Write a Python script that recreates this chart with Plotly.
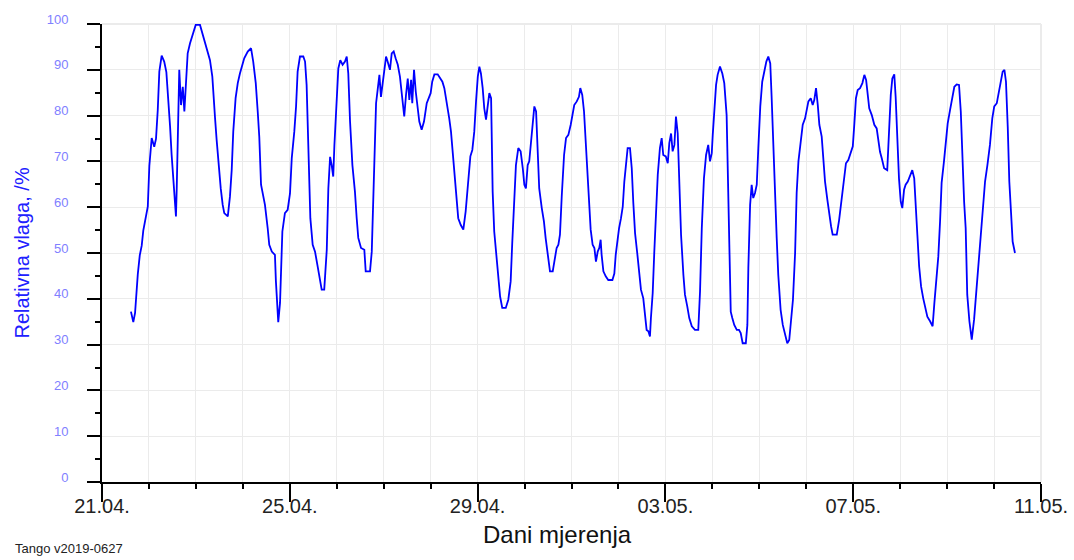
import pandas as pd
import plotly.graph_objects as go

# hours since 21.04. 00:00
hours = [14.8, 16.0, 16.9, 17.4, 18.3, 19.3, 20.3, 21.1, 22.3, 23.4, 24.2, 25.4, 26.7, 27.6, 28.5, 29.3, 30.5, 31.8, 32.9, 33.9,
         34.8, 35.6, 36.7, 37.8, 38.2, 38.7, 39.5, 40.4, 41.3, 42.1, 42.9, 43.8, 45.0, 46.4, 47.9, 50.1, 51.3, 52.7, 53.8, 55.2,
         56.4, 56.9, 57.8, 58.6, 59.5, 60.7, 61.7, 62.5, 64.3, 65.4, 66.3, 67.1, 68.3, 69.4, 70.5, 71.4, 72.7, 74.5, 76.2, 77.3,
         78.6, 79.6, 80.4, 81.3, 82.5, 83.3, 84.7, 85.5, 86.8, 88.4, 88.9, 89.8, 90.1, 91.0, 91.5, 92.2, 93.5, 94.9, 96.1, 97.0,
         98.3, 99.2, 100.0, 101.2, 102.9, 103.8, 104.6, 105.5, 106.5, 107.7, 108.9, 110.1, 111.1, 112.3, 113.6, 114.9, 115.7, 116.6, 117.4, 118.2,
         118.8, 119.6, 120.8, 121.8, 123.0, 124.2, 125.1, 125.9, 126.8, 128.0, 129.3, 130.2, 131.0, 132.4, 134.1, 134.8, 137.0, 137.9, 138.4, 139.0,
         140.1, 140.9, 141.8, 142.6, 143.5, 144.3, 145.2, 146.0, 147.2, 148.1, 149.1, 150.1, 151.2, 152.3, 153.2, 154.0, 154.5, 155.4, 156.3, 157.1,
         158.0, 158.6, 159.5, 160.4, 161.4, 162.2, 163.4, 164.6, 166.0, 167.2, 168.0, 168.8, 169.9, 171.6, 172.8, 174.0, 175.0, 175.9, 176.7, 177.5,
         178.4, 179.3, 180.5, 181.3, 182.1, 183.4, 184.7, 185.9, 187.3, 188.3, 189.3, 190.3, 191.2, 192.1, 192.9, 193.7, 194.6, 195.4, 196.3, 197.2,
         198.0, 198.9, 199.7, 200.5, 201.4, 202.3, 203.5, 204.6, 206.4, 207.7, 208.9, 209.7, 210.8, 211.6, 212.8, 214.0, 215.1, 215.9, 216.7, 217.6,
         218.4, 219.3, 220.2, 221.0, 221.9, 222.7, 223.5, 224.8, 225.9, 226.8, 227.8, 229.0, 230.4, 231.2, 232.4, 233.3, 234.1, 235.0, 236.2, 237.2,
         238.4, 239.6, 240.6, 241.4, 242.7, 243.8, 244.5, 245.5, 246.4, 247.3, 248.1, 249.0, 249.8, 250.8, 251.7, 252.5, 253.4, 254.2, 254.9, 255.4,
         256.3, 257.5, 258.8, 260.9, 261.9, 262.6, 263.4, 264.3, 265.3, 266.2, 267.0, 267.9, 268.7, 269.9, 270.8, 271.6, 272.5, 273.6, 274.7, 275.5,
         276.7, 277.6, 278.4, 279.3, 280.1, 280.6, 281.5, 282.3, 283.2, 284.1, 285.2, 286.1, 286.9, 288.2, 289.2, 290.0, 290.9, 291.7, 292.6, 293.4,
         294.3, 295.1, 296.0, 297.2, 298.0, 299.2, 300.2, 301.5, 303.1, 304.8, 305.7, 306.6, 307.7, 308.8, 309.9, 310.8, 311.7, 312.2, 313.0, 313.9,
         314.7, 315.9, 317.1, 318.1, 319.3, 319.8, 320.5, 321.4, 322.2, 323.2, 324.5, 325.6, 326.5, 327.5, 329.1, 329.9, 330.4, 331.3, 332.1, 332.9,
         333.8, 334.7, 335.5, 336.5, 337.5, 338.6, 339.6, 340.6, 341.6, 342.3, 343.2, 344.0, 344.9, 345.7, 346.9, 348.0, 349.1, 350.3, 351.3, 352.2,
         353.2, 354.3, 355.1, 356.0, 357.2, 358.2, 359.4, 360.2, 361.1, 362.3, 363.3, 364.1, 365.0, 365.9, 366.7, 367.9, 368.7, 369.6, 370.8, 371.8,
         372.7, 373.5, 375.6, 376.8, 377.6, 378.4, 379.3, 380.3, 381.5, 382.7, 383.8, 384.6, 385.4, 386.3, 387.5, 388.7, 389.7, 390.6, 391.4, 392.2,
         393.5, 394.8, 396.0, 396.8, 397.7, 398.6, 399.8, 401.4, 402.3, 403.2, 404.0, 405.0, 405.7, 406.6, 407.4, 408.3, 409.1, 410.0, 410.8, 411.9,
         413.0, 414.2, 415.2, 416.0, 416.8, 417.7, 418.7, 419.8, 420.7, 421.9, 423.3, 424.6, 425.5, 426.3, 427.5, 428.4, 429.2, 430.4, 431.3, 432.3,
         433.5, 434.7, 435.7, 436.9, 438.1, 439.0, 439.8, 440.7, 441.5, 442.3, 443.4, 444.6, 445.8, 446.8, 448.0, 449.2, 450.2, 451.4, 452.6, 453.9,
         455.1, 456.1, 457.4, 458.5, 459.4, 460.4, 461.3, 462.1, 463.0, 463.8, 464.7, 465.5, 466.7]

rh = [37.2, 34.9, 36.9, 40.6, 45.4, 49.5, 51.6, 54.9, 58.0, 60.1, 69.0, 75.1, 73.2, 74.9, 81.2, 89.6, 93.1, 91.8, 89.5, 83.8,
      77.6, 71.4, 64.9, 58.0, 64.1, 78.0, 90.0, 82.3, 86.3, 80.9, 88.1, 93.6, 95.8, 97.6, 99.8, 99.8, 98.0, 95.8, 94.0, 92.1,
      88.5, 84.5, 79.4, 74.7, 69.6, 64.1, 60.5, 58.7, 58.0, 62.3, 68.1, 76.5, 83.8, 87.1, 89.2, 90.7, 92.5, 94.0, 94.7, 91.8,
      87.1, 80.9, 75.4, 64.9, 62.3, 60.5, 55.4, 51.8, 50.3, 49.6, 43.8, 37.2, 34.9, 39.1, 47.4, 54.7, 58.7, 59.4, 63.0, 70.7,
      76.5, 82.0, 89.6, 92.9, 92.9, 91.8, 86.7, 72.1, 57.6, 51.8, 50.3, 47.4, 44.5, 42.0, 42.0, 50.7, 64.1, 71.0, 69.2, 66.7,
      73.6, 81.6, 90.3, 92.1, 91.1, 91.8, 92.9, 89.2, 78.7, 69.2, 63.4, 57.6, 53.3, 51.1, 50.7, 46.0, 46.0, 50.3, 57.6, 71.8,
      82.7, 85.6, 88.9, 84.1, 87.1, 89.6, 92.9, 91.8, 90.0, 93.6, 94.0, 92.5, 91.1, 88.5, 85.2, 82.3, 79.8, 84.5, 88.1, 83.4,
      87.8, 82.7, 90.0, 85.2, 80.9, 78.7, 76.9, 78.7, 82.7, 83.8, 84.9, 87.4, 89.0, 89.0, 88.1, 87.4, 86.0, 83.8, 81.6, 79.4,
      76.5, 71.8, 65.6, 60.9, 57.6, 56.1, 55.1, 59.1, 66.0, 71.1, 72.5, 76.5, 83.1, 88.5, 90.7, 89.2, 86.0, 81.6, 79.1, 81.6,
      84.9, 83.8, 63.4, 54.7, 50.3, 44.9, 40.5, 38.0, 38.0, 39.8, 43.8, 52.1, 61.2, 69.2, 72.9, 72.2, 68.5, 64.9, 64.1, 69.2,
      70.0, 74.3, 79.4, 82.0, 80.9, 73.6, 64.1, 59.8, 56.9, 53.2, 50.0, 46.0, 46.0, 48.5, 51.1, 51.8, 54.0, 62.3, 71.4, 75.1,
      75.8, 78.0, 80.5, 82.3, 83.1, 84.1, 86.0, 84.5, 80.9, 74.0, 66.3, 60.1, 55.1, 51.8, 51.1, 48.1, 50.3, 51.1, 52.9, 49.6,
      46.0, 44.9, 44.1, 44.1, 45.5, 49.6, 52.9, 55.4, 57.6, 60.1, 65.6, 70.3, 72.9, 72.9, 68.5, 60.9, 54.3, 50.0, 46.0, 42.0,
      40.1, 36.9, 33.2, 32.9, 31.8, 35.8, 41.2, 50.0, 59.4, 67.1, 72.9, 75.1, 71.4, 71.1, 69.6, 74.0, 76.1, 72.2, 73.6, 79.8,
      76.1, 66.3, 54.0, 45.2, 40.9, 38.3, 35.8, 34.0, 33.2, 33.2, 41.6, 55.4, 66.3, 71.4, 73.6, 70.0, 71.8, 75.8, 82.0, 86.7,
      88.9, 90.7, 89.2, 87.1, 80.1, 68.5, 55.4, 37.2, 35.8, 34.3, 33.2, 33.2, 32.5, 30.3, 30.3, 34.3, 46.7, 60.5, 64.9, 62.0,
      63.1, 64.9, 72.9, 82.0, 87.4, 90.0, 91.8, 92.9, 91.4, 84.1, 72.5, 61.6, 53.2, 45.2, 37.6, 34.3, 32.1, 30.3, 31.0, 35.1,
      39.8, 50.0, 63.1, 70.0, 75.1, 78.0, 79.4, 81.6, 83.1, 83.8, 82.3, 83.4, 86.0, 82.3, 78.0, 75.4, 70.0, 65.6, 61.6, 58.0,
      55.8, 54.0, 54.0, 57.2, 60.1, 63.1, 67.1, 69.6, 70.3, 71.8, 73.3, 78.3, 83.8, 85.6, 86.0, 87.1, 88.9, 87.8, 84.5, 81.6,
      80.1, 78.0, 77.2, 74.3, 72.1, 70.7, 68.5, 68.1, 76.9, 84.5, 88.1, 89.0, 84.1, 74.7, 66.3, 61.2, 59.8, 63.8, 64.9, 65.6,
      66.7, 68.1, 66.3, 61.2, 54.0, 47.1, 42.7, 40.1, 38.0, 36.1, 35.1, 34.0, 39.1, 43.8, 49.2, 56.9, 65.3, 70.0, 74.3, 78.3,
      81.2, 83.8, 86.3, 86.8, 86.7, 80.9, 70.0, 61.2, 55.4, 40.9, 35.1, 31.1, 35.5, 40.9, 47.8, 54.0, 59.8, 65.6, 69.2, 73.6,
      79.4, 82.0, 82.7, 85.2, 88.1, 89.6, 90.0, 87.4, 77.6, 65.6, 58.7, 52.5, 50.0]

start_date = "2019-04-21"
end_date = "2019-05-11"
major_ticks = ["2019-04-21", "2019-04-25", "2019-04-29", "2019-05-03", "2019-05-07", "2019-05-11"]
major_labels = ["21.04.", "25.04.", "29.04.", "03.05.", "07.05.", "11.05."]

base = pd.Timestamp(start_date)
times = base + pd.to_timedelta(hours, unit="h")

FONT = "Liberation Sans, Arial, sans-serif"
GRID = "#ebebeb"

fig = go.Figure()
fig.add_trace(go.Scatter(x=times, y=rh, mode="lines",
                         line=dict(color="#0000ff", width=1.8), showlegend=False))

fig.update_layout(
    width=1074, height=560,
    margin=dict(l=102, r=33, t=24, b=78, autoexpand=False),
    paper_bgcolor="white", plot_bgcolor="white",
    font=dict(family=FONT),
    xaxis=dict(
        type="date", automargin=False,
        range=[start_date, end_date],
        tickvals=major_ticks, ticktext=major_labels,
        ticks="outside", ticklen=18, tickwidth=2, tickcolor="black",
        ticklabelstandoff=-13,
        tickfont=dict(size=20, color="#222222", family=FONT),
        showline=True, linecolor="black", linewidth=2,
        showgrid=True, gridcolor=GRID, gridwidth=1,
        zeroline=False,
        minor=dict(dtick=86400000, ticks="outside", ticklen=5, tickwidth=2,
                   tickcolor="black", showgrid=True, gridcolor=GRID, gridwidth=1),
    ),
    yaxis=dict(
        range=[0, 100], dtick=10, tick0=0, automargin=False,
        ticks="outside", ticklen=13, tickwidth=2, tickcolor="black",
        ticklabelstandoff=16, ticklabelshift=-5,
        tickfont=dict(size=13, color="#8080ff", family=FONT),
        showline=True, linecolor="black", linewidth=2,
        showgrid=True, gridcolor=GRID, gridwidth=1,
        zeroline=False,
        minor=dict(dtick=5, ticks="outside", ticklen=5, tickwidth=2,
                   tickcolor="black", showgrid=False),
    ),
    shapes=[
        dict(type="line", xref="paper", yref="paper", x0=0, x1=1, y0=1, y1=1,
             line=dict(color=GRID, width=2), layer="below"),
        dict(type="line", xref="paper", yref="paper", x0=1, x1=1, y0=0, y1=1,
             line=dict(color=GRID, width=2), layer="below"),
    ],
    annotations=[
        dict(text="Relativna vlaga, /%", xref="paper", yref="paper",
             x=-0.0852, y=0.501, xanchor="center", yanchor="middle",
             textangle=-90, showarrow=False,
             font=dict(size=20, color="#2020ff", family=FONT)),
        dict(text="Dani mjerenja", xref="paper", yref="paper",
             x=0.4846, y=-0.1157, xanchor="center", yanchor="middle",
             showarrow=False, font=dict(size=24, color="#111111", family=FONT)),
        dict(text="Tango v2019-0627", xref="paper", yref="paper",
             x=-0.0948, y=-0.146, xanchor="left", yanchor="middle",
             showarrow=False, font=dict(size=13, color="#222222", family=FONT)),
    ],
)

fig.write_html("out.html")
